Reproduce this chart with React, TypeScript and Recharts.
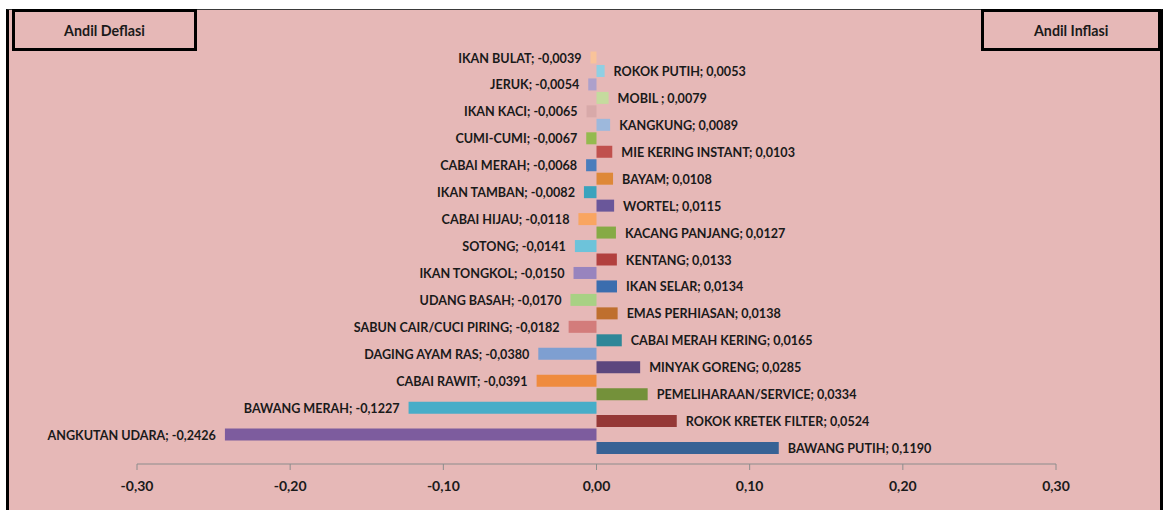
import { Bar, BarChart, Cell, LabelList, XAxis, YAxis } from "recharts";

// top to bottom, as in the picture
const categories = [
  "IKAN BULAT",
  "ROKOK PUTIH",
  "JERUK",
  "MOBIL ",
  "IKAN KACI",
  "KANGKUNG",
  "CUMI-CUMI",
  "MIE KERING INSTANT",
  "CABAI MERAH",
  "BAYAM",
  "IKAN TAMBAN",
  "WORTEL",
  "CABAI HIJAU",
  "KACANG PANJANG",
  "SOTONG",
  "KENTANG",
  "IKAN TONGKOL",
  "IKAN SELAR",
  "UDANG BASAH",
  "EMAS PERHIASAN",
  "SABUN CAIR/CUCI PIRING",
  "CABAI MERAH KERING",
  "DAGING AYAM RAS",
  "MINYAK GORENG",
  "CABAI RAWIT",
  "PEMELIHARAAN/SERVICE",
  "BAWANG MERAH",
  "ROKOK KRETEK FILTER",
  "ANGKUTAN UDARA",
  "BAWANG PUTIH",
];

const andil = [
  -0.0039, 0.0053, -0.0054, 0.0079, -0.0065, 0.0089, -0.0067, 0.0103, -0.0068,
  0.0108, -0.0082, 0.0115, -0.0118, 0.0127, -0.0141, 0.0133, -0.015, 0.0134,
  -0.017, 0.0138, -0.0182, 0.0165, -0.038, 0.0285, -0.0391, 0.0334, -0.1227,
  0.0524, -0.2426, 0.119,
];

const xTicks = [-0.3, -0.2, -0.1, 0, 0.1, 0.2, 0.3];

const barColors = [
  "#F9C39A", "#8FCFE3", "#ADA0CB", "#C5DB9E", "#D8A9A9", "#9DB8DC",
  "#94BA4F", "#C0504D", "#4A7DBC", "#DE8838", "#3AA3BD", "#6A579A",
  "#F9A561", "#86AA45", "#6DC3DA", "#B2403E", "#9884BE", "#3B6DAE",
  "#A8D184", "#BF6F2E", "#D37C7B", "#2E8798", "#7E9FD1", "#5C477E",
  "#EF8B3E", "#74913A", "#47ADC8", "#953836", "#7D5C9E", "#376295",
];

const rows = categories.map((name, i) => ({ name, value: andil[i] }));

const fmt = (v: number, d: number) => v.toFixed(d).replace(".", ",");

const FONT = "Lato, 'Open Sans', sans-serif";
const INK = "#1A1A1A";

function BarLabel(props: any) {
  const { x, y, width, height, index } = props;
  const v = andil[index];
  const left = Math.min(x, x + width);
  const right = Math.max(x, x + width);
  const neg = v < 0;
  const tx = neg ? left - 9 : right + 9;
  const ty = y + height / 2;
  return (
    <text
      transform={`translate(${tx} ${ty}) scale(0.9 1)`}
      x={0}
      y={0}
      dy="0.36em"
      textAnchor={neg ? "end" : "start"}
      fill={INK}
      fontFamily={FONT}
      fontWeight={700}
      fontSize={14}
    >
      {`${categories[index]}; ${fmt(v, 4)}`}
    </text>
  );
}

const boxStyle = {
  position: "absolute" as const,
  top: 9,
  height: 42,
  border: "3px solid #000",
  boxSizing: "border-box" as const,
  display: "flex",
  alignItems: "center",
  justifyContent: "center",
  fontFamily: FONT,
  fontWeight: 700,
  fontSize: 15,
  color: INK,
};

export default function App() {
  return (
    <div
      style={{
        position: "absolute",
        left: 0,
        top: 0,
        width: 1164,
        height: 510,
        overflow: "hidden",
        background: "#fff",
      }}
    >
      <div
        style={{
          position: "absolute",
          left: 6,
          top: 9,
          width: 1157,
          height: 510,
          boxSizing: "border-box",
          background: "#E6B8B7",
          borderLeft: "3px solid #000",
          borderRight: "3px solid #000",
          borderTop: "1px solid #3a3a3a",
        }}
      />
      <div style={{ position: "absolute", left: 0, top: 0 }}>
        <BarChart
          width={1164}
          height={510}
          data={rows}
          layout="vertical"
          margin={{ top: 51, right: 108, bottom: 16, left: 137 }}
          barCategoryGap={0.5}
        >
          <XAxis
            type="number"
            domain={[-0.3, 0.3]}
            ticks={xTicks}
            tickFormatter={(v) => fmt(Number(v), 2)}
            axisLine={{ stroke: "#8C8C8C" }}
            tickLine={{ stroke: "#8C8C8C" }}
            tickMargin={11}
            tick={{ fill: INK, fontFamily: FONT, fontWeight: 700, fontSize: 14 }}
          />
          <YAxis
            type="category"
            dataKey="name"
            hide
            padding={{ top: 0, bottom: 9 }}
          />
          <Bar dataKey="value" isAnimationActive={false}>
            {rows.map((r, i) => (
              <Cell key={r.name} fill={barColors[i]} />
            ))}
            <LabelList dataKey="value" content={<BarLabel />} />
          </Bar>
        </BarChart>
      </div>
      <div style={{ ...boxStyle, left: 12, width: 185 }}>
        <span style={{ display: "inline-block", transform: "scaleX(0.95)" }}>
          Andil Deflasi
        </span>
      </div>
      <div style={{ ...boxStyle, left: 981, width: 180 }}>
        <span style={{ display: "inline-block", transform: "scaleX(0.95)" }}>
          Andil Inflasi
        </span>
      </div>
    </div>
  );
}
